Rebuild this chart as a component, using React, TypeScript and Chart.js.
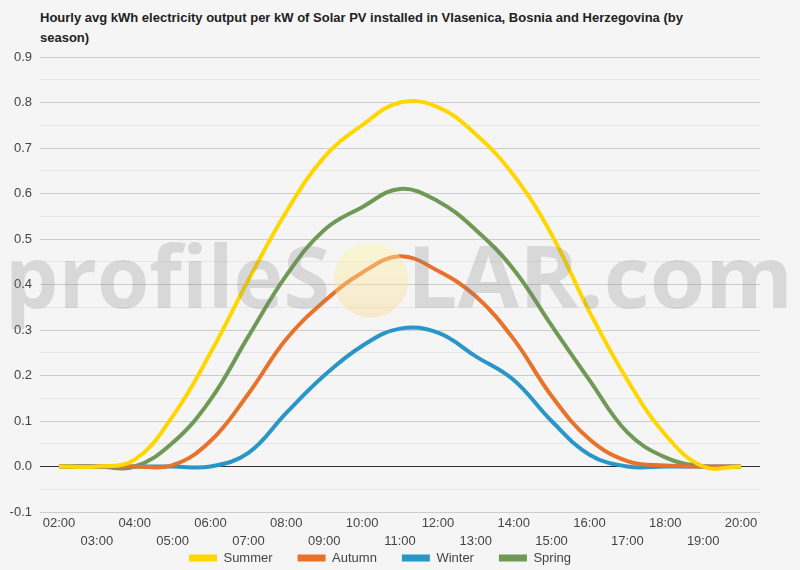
import { useEffect, useRef } from 'react';
import { Chart, registerables } from 'chart.js';

Chart.register(...registerables);

const FONT = "Arial, 'Liberation Sans', sans-serif";

// hourly points, 02:00 .. 20:00
const hours = [
  '02:00', '03:00', '04:00', '05:00', '06:00', '07:00', '08:00', '09:00', '10:00', '11:00',
  '12:00', '13:00', '14:00', '15:00', '16:00', '17:00', '18:00', '19:00', '20:00',
];
const summer = [0, 0, 0.015, 0.11, 0.25, 0.41, 0.56, 0.68, 0.75, 0.8, 0.79, 0.73, 0.64, 0.51, 0.34, 0.19, 0.07, 0, 0];
const autumn = [0, 0, 0, 0.003, 0.056, 0.16, 0.28, 0.363, 0.426, 0.462, 0.43, 0.374, 0.28, 0.155, 0.06, 0.012, 0.002, 0, 0];
const winter = [0, 0, 0, 0, 0, 0.03, 0.118, 0.2, 0.265, 0.303, 0.294, 0.242, 0.19, 0.1, 0.026, 0, 0, 0, 0];
const spring = [0, 0, 0, 0.052, 0.147, 0.286, 0.42, 0.52, 0.57, 0.61, 0.583, 0.52, 0.433, 0.31, 0.19, 0.075, 0.02, 0, 0];

const seriesNames = ['Summer', 'Autumn', 'Winter', 'Spring'];
const seriesColors = ['#FFD600', '#E8722A', '#2896C6', '#6F9A55'];

// draw a string stretched so it spans x0..x1
function fitText(ctx: CanvasRenderingContext2D, text: string, x0: number, x1: number, y: number) {
  const w = ctx.measureText(text).width;
  ctx.save();
  ctx.translate(x0, y);
  ctx.scale((x1 - x0) / w, 1);
  ctx.fillText(text, 0, 0);
  ctx.restore();
}

// profileSOLAR.com watermark, drawn over the lines
const watermark = {
  id: 'watermark',
  afterDatasetsDraw(chart: Chart) {
    const { ctx } = chart;
    ctx.save();
    ctx.font = `bold 86px 'Open Sans', ${FONT}`;
    ctx.textBaseline = 'alphabetic';
    ctx.textAlign = 'left';
    ctx.fillStyle = 'rgba(125,125,125,0.24)';
    fitText(ctx, 'profileS', 5, 330, 308);
    fitText(ctx, 'LAR.com', 407, 793, 308);

    const g = ctx.createLinearGradient(0, 242, 0, 318);
    g.addColorStop(0, 'rgba(255,250,170,0.42)');
    g.addColorStop(1, 'rgba(250,212,140,0.4)');
    ctx.fillStyle = g;
    ctx.beginPath();
    ctx.arc(371, 280, 37.5, 0, Math.PI * 2);
    ctx.fill();
    ctx.restore();
  },
};

// the x labels take two rows, so the legend is lifted to sit over the second one's bottom
const legendShift = {
  id: 'legendShift',
  afterLayout(chart: any) {
    const lg = chart.legend;
    if (!lg) return;
    lg.top -= 25.5;
    lg.bottom -= 25.5;
  },
};

export default function App() {
  const canvasRef = useRef<HTMLCanvasElement>(null);
  const chartRef = useRef<Chart | null>(null);

  useEffect(() => {
    document.body.style.margin = '0';
    if (!canvasRef.current) return;
    if (chartRef.current) chartRef.current.destroy();

    const series = [summer, autumn, winter, spring];

    chartRef.current = new Chart(canvasRef.current, {
      type: 'line',
      data: {
        labels: hours,
        datasets: series.map((data, i) => ({
          label: seriesNames[i],
          data,
          borderColor: seriesColors[i],
          backgroundColor: seriesColors[i],
          borderWidth: 4,
          pointRadius: 0,
          tension: 0.4,
          fill: false,
        })),
      },
      plugins: [watermark, legendShift],
      options: {
        responsive: false,
        animation: false,
        layout: { padding: { top: 57, right: 40, bottom: -30, left: 0 } },
        plugins: {
          title: { display: false },
          tooltip: { enabled: false },
          legend: {
            position: 'bottom',
            labels: {
              boxWidth: 28,
              boxHeight: 7,
              padding: 25,
              color: '#444',
              font: { family: FONT, size: 13 },
              generateLabels: (chart: Chart) =>
                Chart.defaults.plugins.legend.labels.generateLabels(chart).map((it: any) => ({
                  ...it,
                  lineWidth: 0,
                })),
            },
          },
        },
        scales: {
          x: {
            offset: true,
            afterFit: (scale: any) => {
              scale.height = 40;
            },
            grid: { display: false, drawTicks: false },
            border: { display: false },
            ticks: {
              autoSkip: false,
              maxRotation: 0,
              padding: 2,
              color: '#444',
              font: { family: FONT, size: 13, lineHeight: 1.4 },
              callback: function (this: any, value: any, index: number) {
                const label = this.getLabelForValue(value);
                return index % 2 === 0 ? label : ['', label];
              },
            },
          },
          y: {
            min: -0.1,
            max: 0.9,
            afterFit: (scale: any) => {
              scale.width = 40;
            },
            border: { display: false },
            grid: {
              drawTicks: false,
              color: (ctx: any) => {
                const k = Math.round(ctx.tick.value * 20);
                if (k === 0) return '#333';
                return k % 2 === 0 ? '#cccccc' : '#e6e6e6';
              },
            },
            ticks: {
              stepSize: 0.05,
              padding: 8,
              color: '#444',
              font: { family: FONT, size: 13 },
              callback: (value: any) => {
                const k = Math.round(Number(value) * 20);
                return k % 2 === 0 ? (k / 20).toFixed(1) : '';
              },
            },
          },
        },
      },
    });

    return () => {
      if (chartRef.current) {
        chartRef.current.destroy();
        chartRef.current = null;
      }
    };
  }, []);

  return (
    <div style={{ position: 'relative', width: 800, height: 570, background: '#f5f5f5', overflow: 'hidden' }}>
      <div
        style={{
          position: 'absolute',
          left: 40,
          top: 8,
          fontFamily: FONT,
          fontWeight: 'bold',
          fontSize: 13,
          lineHeight: '20px',
          color: '#222',
        }}
      >
        Hourly avg kWh electricity output per kW of Solar PV installed in Vlasenica, Bosnia and Herzegovina (by
        <br />
        season)
      </div>
      <canvas
        ref={canvasRef}
        width={800}
        height={570}
        style={{ position: 'absolute', left: 0, top: 0 }}
        role="img"
        aria-label="Hourly solar PV output per kW by season"
      />
    </div>
  );
}
